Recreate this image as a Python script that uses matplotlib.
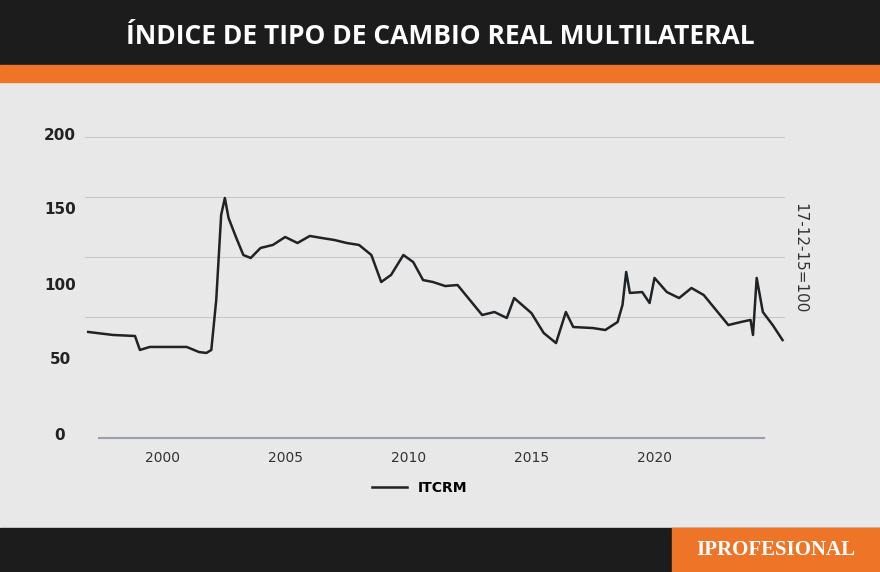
import matplotlib.pyplot as plt
from matplotlib.patches import Rectangle

# ITCRM (17-12-15=100), valores aproximados
years = [1997.0, 1998.0, 1998.9, 1999.1, 1999.5, 2000.0, 2001.0, 2001.5, 2001.8, 2002.0,
         2002.2, 2002.4, 2002.55, 2002.7, 2003.0, 2003.3, 2003.6, 2004.0, 2004.5, 2005.0,
         2005.5, 2006.0, 2006.5, 2007.0, 2007.5, 2008.0, 2008.5, 2008.9, 2009.3, 2009.8,
         2010.2, 2010.6, 2011.0, 2011.5, 2012.0, 2012.5, 2013.0, 2013.5, 2014.0, 2014.3,
         2015.0, 2015.5, 2016.0, 2016.4, 2016.7, 2017.5, 2018.0, 2018.5, 2018.7, 2018.85,
         2019.0, 2019.5, 2019.8, 2020.0, 2020.5, 2021.0, 2021.5, 2022.0, 2022.5, 2023.0,
         2023.5, 2023.9, 2024.0, 2024.15, 2024.4, 2024.8, 2025.2]
itcrm = [68.7, 66.7, 66.0, 56.7, 58.7, 58.7, 58.7, 55.3, 54.7, 56.7,
         90.0, 146.7, 158.0, 144.7, 132.0, 120.0, 118.0, 124.7, 126.7, 132.0,
         128.0, 132.7, 131.3, 130.0, 128.0, 126.7, 120.0, 102.0, 106.7, 120.0,
         115.3, 103.3, 102.0, 99.3, 100.0, 90.0, 80.0, 82.0, 78.0, 91.3,
         81.3, 68.0, 61.3, 82.0, 72.0, 71.3, 70.0, 75.3, 86.7, 108.7,
         94.7, 95.3, 88.0, 104.7, 95.3, 91.3, 98.0, 93.3, 83.3, 73.3,
         75.3, 76.7, 66.7, 104.7, 82.0, 73.3, 63.3]
x_ticks = [2000, 2005, 2010, 2015, 2020]
y_labels = [200, 150, 100, 50, 0]
grid_vals = [199, 159, 119, 79]

W, H = 880, 572
fig = plt.figure(figsize=(8.8, 5.72), dpi=100)
fig.patch.set_facecolor("#e8e8e8")

def box(x, y, w, h, c):
    fig.patches.append(Rectangle((x / W, 1 - (y + h) / H), w / W, h / H,
                                 transform=fig.transFigure, color=c, zorder=0))

box(0, 0, W, 65, "#1c1c1c")
box(0, 65, W, 17, "#ee7427")
box(0, 528, W, 44, "#1c1c1c")
box(672, 528, 208, 44, "#ee7427")
fig.text(0.5, 1 - 36 / H, "ÍNDICE DE TIPO DE CAMBIO REAL MULTILATERAL", color="white",
         fontsize=19, fontweight="bold", ha="center", va="center", family="Open Sans")
fig.text(776 / W, 1 - 550 / H, "IPROFESIONAL", color="white", fontsize=15,
         fontweight="bold", ha="center", va="center", family="Liberation Serif")

ax = fig.add_axes([85 / W, 132 / H, 700 / W, 320 / H])
ax.set_facecolor("none")
ax.set_xlim(1996.87, 2025.3)
ax.set_ylim(-3.33, 210)
for g in grid_vals:
    ax.axhline(g, color="#c8c8cc", lw=0.8, zorder=1)
ax.axhline(-2, xmin=0.02, xmax=0.97, color="#9aa0b0", lw=1.5, zorder=1)
ax.plot(years, itcrm, color="#1f2326", lw=1.8, label="ITCRM", zorder=3)
for s in ax.spines.values():
    s.set_visible(False)
ax.set_yticks([])
ax.set_xticks(x_ticks)
ax.tick_params(axis="x", length=0, labelsize=10, colors="#333333", pad=8)
for v in y_labels:
    fig.text(60 / W, 1 - (435 - v * 1.5) / H, str(v), fontsize=11, fontweight="bold",
             color="#222222", ha="center", va="center")
fig.text(800 / W, 1 - 258 / H, "17-12-15=100", rotation=270, fontsize=11,
         color="#333333", ha="center", va="center")
leg = fig.legend(loc="center", bbox_to_anchor=(420 / W, 1 - 488 / H), frameon=False,
                 prop={"size": 10, "weight": "bold"}, handlelength=2.5)
fig.savefig("out.png", dpi=100, facecolor=fig.get_facecolor())
